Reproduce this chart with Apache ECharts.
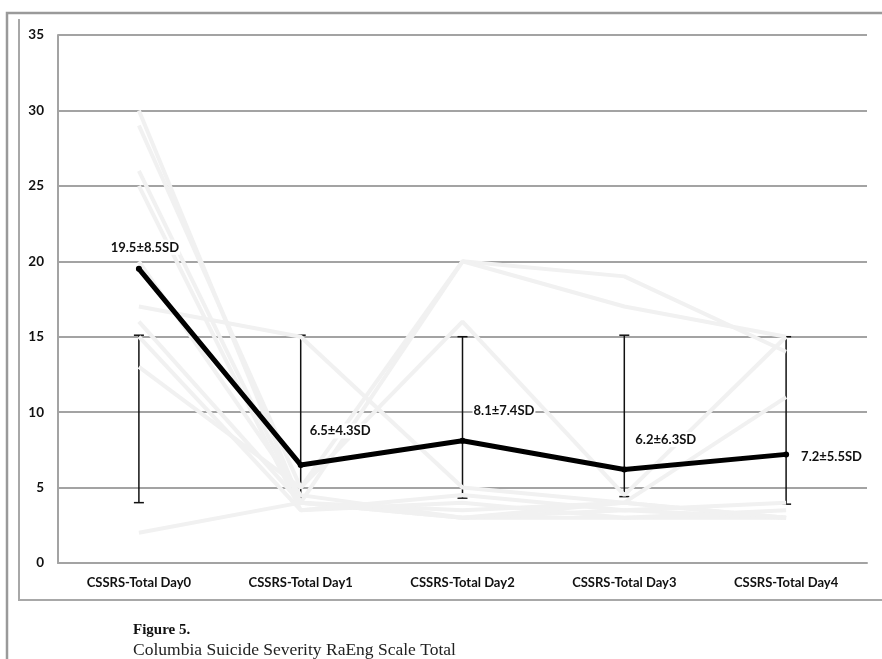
<!DOCTYPE html>
<html>
<head>
<meta charset="utf-8">
<script src="https://cdn.jsdelivr.net/npm/echarts@6/dist/echarts.min.js"></script>
<style>
  html, body { margin: 0; padding: 0; background: #fff; }
  #chart { width: 882px; height: 659px; }
</style>
</head>
<body>
<div id="chart"></div>
<script>
// Study visits
const categories = ['CSSRS-Total Day0', 'CSSRS-Total Day1', 'CSSRS-Total Day2', 'CSSRS-Total Day3', 'CSSRS-Total Day4'];

// Group mean and standard deviation per visit
const means = [19.5, 6.5, 8.1, 6.2, 7.2];
const sds = [8.5, 4.3, 7.4, 6.3, 5.5];

// Whisker extents drawn at each visit
const barLow = [4.0, 4.0, 4.3, 4.4, 3.9];
const barHigh = [15.1, 15.1, 15.0, 15.1, 15.0];

// Individual participant scores (faint background trajectories)
const p01 = [30, 4, 3, 3, 3];
const p02 = [29, 5, 20, 19, 14];
const p03 = [26, 4, 20, 17, 15];
const p04 = [17, 15, 5, 4, 3];
const p05 = [16, 4, 3.5, 4, 11];
const p06 = [13, 5, 16, 4.5, 15];
const p07 = [2, 4, 3, 3.5, 3];
const p08 = [15, 3.5, 4, 3, 3.5];
const p09 = [20, 4.5, 3, 4, 3];
const p10 = [25, 3.5, 4.5, 3.5, 4];
const participants = [p01, p02, p03, p04, p05, p06, p07, p08, p09, p10];

const yTicks = { min: 0, max: 35, interval: 5 };

const fontSans = 'Lato, "Open Sans", sans-serif';
const gridGray = '#a3a3a3';

// where each mean label sits relative to its point
const labelPlace = [
  { position: 'top', offset: [6, -6] },
  { position: 'right', offset: [0, -34] },
  { position: 'right', offset: [2, -30] },
  { position: 'right', offset: [2, -30] },
  { position: 'right', offset: [6, 2] }
];

const chart = echarts.init(document.getElementById('chart'), null, { renderer: 'canvas' });

const participantSeries = participants.map(function (p, i) {
  return {
    name: 'participant' + (i + 1),
    type: 'line',
    data: p,
    symbol: 'none',
    silent: true,
    z: 3,
    lineStyle: { color: '#f1f1f1', width: 4 }
  };
});

const option = {
  animation: false,
  backgroundColor: '#ffffff',
  grid: { left: 58, right: 15, top: 35, bottom: 96, containLabel: false },
  xAxis: {
    type: 'category',
    data: categories,
    boundaryGap: true,
    axisLine: { show: true, lineStyle: { color: gridGray, width: 2 } },
    axisTick: { show: false },
    axisLabel: {
      color: '#111',
      fontFamily: fontSans,
      fontWeight: 'bold',
      fontSize: 13,
      margin: 13
    },
    splitLine: { show: false }
  },
  yAxis: {
    type: 'value',
    min: yTicks.min,
    max: yTicks.max,
    interval: yTicks.interval,
    axisLine: { show: true, lineStyle: { color: gridGray, width: 2 } },
    axisTick: { show: false },
    axisLabel: {
      color: '#111',
      fontFamily: fontSans,
      fontWeight: 'bold',
      fontSize: 13.5,
      margin: 14
    },
    splitLine: { show: true, lineStyle: { color: gridGray, width: 2 } }
  },
  series: [
    {
      name: 'whiskers',
      type: 'custom',
      z: 2,
      silent: true,
      data: categories.map(function (c, i) { return [i, barLow[i], barHigh[i]]; }),
      renderItem: function (params, api) {
        const lo = api.coord([api.value(0), api.value(1)]);
        const hi = api.coord([api.value(0), api.value(2)]);
        const cap = 5;
        const style = { stroke: '#111', lineWidth: 1.5 };
        return {
          type: 'group',
          children: [
            { type: 'line', shape: { x1: lo[0], y1: lo[1], x2: hi[0], y2: hi[1] }, style: style },
            { type: 'line', shape: { x1: lo[0] - cap, y1: lo[1], x2: lo[0] + cap, y2: lo[1] }, style: style },
            { type: 'line', shape: { x1: hi[0] - cap, y1: hi[1], x2: hi[0] + cap, y2: hi[1] }, style: style }
          ]
        };
      }
    }
  ].concat(participantSeries).concat([
    {
      name: 'mean',
      type: 'line',
      z: 10,
      data: means.map(function (m, i) {
        return {
          value: m,
          label: {
            show: true,
            position: labelPlace[i].position,
            offset: labelPlace[i].offset,
            formatter: m.toFixed(1) + '\u00b1' + sds[i].toFixed(1) + 'SD',
            color: '#111',
            fontFamily: fontSans,
            fontWeight: 'bold',
            fontSize: 13,
            backgroundColor: '#ffffff',
            padding: [1, 1]
          }
        };
      }),
      symbol: 'circle',
      symbolSize: 6,
      itemStyle: { color: '#000' },
      lineStyle: { color: '#000', width: 5, join: 'round', cap: 'round' }
    }
  ]),
  graphic: [
    // outer page frame
    { type: 'polyline', silent: true, shape: { points: [[7, 659], [7, 13], [882, 13]] },
      style: { stroke: '#9a9a9a', lineWidth: 2.5, fill: null } },
    // chart box
    { type: 'polyline', silent: true, shape: { points: [[19, 19], [19, 600], [882, 600]] },
      style: { stroke: '#a8a8a8', lineWidth: 2, fill: null } },
    // caption
    { type: 'text', left: 133, top: 623, silent: true,
      style: { text: 'Figure 5.', fill: '#111', font: 'bold 15px "Liberation Serif", "DejaVu Serif", serif' } },
    { type: 'text', left: 133, top: 641, silent: true,
      style: { text: 'Columbia Suicide Severity RaEng Scale Total', fill: '#222', font: '17.5px "Liberation Serif", "DejaVu Serif", serif' } }
  ]
};

chart.setOption(option);
</script>
</body>
</html>
